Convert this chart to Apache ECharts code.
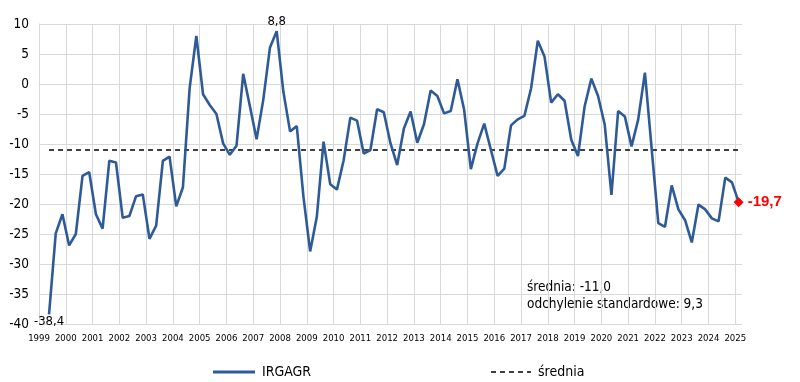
<!DOCTYPE html>
<html>
<head>
<meta charset="utf-8">
<script src="https://cdn.jsdelivr.net/npm/echarts@6/dist/echarts.min.js"></script>
<style>
html,body{margin:0;padding:0;background:#fff;}
#chart{width:800px;height:382px;}
</style>
</head>
<body>
<div id="chart"></div>
<script>
// Quarterly data, first observation 1999 Q2, last 2025 Q1
const startYear = 1999;
const startQuarter = 2;
const irgagr = [
  -38.4, -24.9, -21.7, -26.9,
  -25.0, -15.3, -14.7, -21.7,
  -24.1, -12.8, -13.1, -22.3,
  -22.0, -18.7, -18.4, -25.8,
  -23.6, -12.8, -12.1, -20.4,
  -17.2, -0.7, 8.0, -1.7,
  -3.5, -5.0, -9.9, -11.8,
  -10.3, 1.7, -3.7, -9.2,
  -2.6, 6.1, 8.8, -1.3,
  -7.9, -7.0, -18.8, -27.9,
  -22.1, -9.6, -16.7, -17.6,
  -12.7, -5.6, -6.1, -11.6,
  -11.0, -4.2, -4.7, -9.9,
  -13.5, -7.4, -4.6, -9.8,
  -6.7, -1.1, -2.0, -4.9,
  -4.5, 0.8, -4.3, -14.2,
  -9.9, -6.6, -11.0, -15.3,
  -14.1, -6.9, -5.9, -5.3,
  -0.7, 7.2, 4.6, -3.1,
  -1.7, -2.8, -9.3, -12.0,
  -3.7, 0.9, -2.0, -6.8,
  -18.5, -4.5, -5.4, -10.4,
  -5.9, 1.9, -10.7, -23.2,
  -23.8, -16.9, -20.9, -22.7,
  -26.4, -20.1, -20.9, -22.4,
  -22.9, -15.6, -16.4, -19.7
];
const meanValue = -11.0;
const stdValue = 9.3;
const seriesNames = ['IRGAGR', 'średnia'];
const yTicks = { min: -40, max: 10, interval: 5 };
const xYears = { min: 1999, max: 2025.25 };

const BLUE = '#2E5B97';
const FONT = '"DejaVu Sans Condensed", "DejaVu Sans", sans-serif';

function fmt(v) { return v.toFixed(1).replace('.', ','); }

// quarter position: mid-quarter in decimal years
const xPos = irgagr.map((v, i) => {
  const q = startQuarter - 1 + i;
  return startYear + Math.floor(q / 4) + (q % 4) * 0.25 + 0.125;
});

let maxIdx = 0;
irgagr.forEach((v, i) => { if (v > irgagr[maxIdx]) maxIdx = i; });
const lastIdx = irgagr.length - 1;

const blackLabel = { show: true, color: '#000', fontFamily: FONT, fontSize: 13 };

const mainData = irgagr.map((v, i) => {
  const item = { value: [xPos[i], v] };
  if (i === 0) {
    item.symbol = 'circle'; item.symbolSize = 0.01;
    item.label = Object.assign({}, blackLabel, { position: 'bottom', distance: 1, formatter: () => fmt(v) });
  } else if (i === maxIdx) {
    item.symbol = 'circle'; item.symbolSize = 0.01;
    item.label = Object.assign({}, blackLabel, { position: 'top', distance: 3, formatter: () => fmt(v) });
  } else if (i === lastIdx) {
    item.symbol = 'diamond';
    item.symbolSize = 10;
    item.itemStyle = { color: '#ff0000', borderWidth: 0 };
    item.label = { show: true, position: 'right', distance: 4, color: '#ff0000', fontWeight: 'bold',
      fontFamily: 'Liberation Sans, Arial, sans-serif', fontSize: 15, formatter: () => fmt(v) };
  }
  return item;
});

const chart = echarts.init(document.getElementById('chart'), null, { renderer: 'canvas' });
chart.setOption({
  animation: false,
  backgroundColor: '#fff',
  grid: { left: 39, right: 58, top: 24, bottom: 58, containLabel: false },
  xAxis: {
    type: 'value',
    min: xYears.min, max: xYears.max, interval: 1,
    axisLine: { show: true, lineStyle: { color: '#d9d9d9', width: 1 } },
    axisTick: { show: false },
    splitLine: { show: true, showMaxLine: false, lineStyle: { color: '#d9d9d9', width: 1 } },
    axisLabel: {
      showMaxLabel: false, margin: 10, color: '#000',
      fontFamily: FONT, fontSize: 9.5,
      formatter: v => (Math.abs(v - Math.round(v)) < 1e-6 ? String(Math.round(v)) : '')
    }
  },
  yAxis: {
    type: 'value',
    min: yTicks.min, max: yTicks.max, interval: yTicks.interval,
    axisLine: { show: true, lineStyle: { color: '#d9d9d9', width: 1 } },
    axisTick: { show: false },
    splitLine: { show: true, lineStyle: { color: '#d9d9d9', width: 1 } },
    axisLabel: { margin: 10, color: '#000', fontFamily: FONT, fontSize: 13.5 }
  },
  legend: { show: false, data: seriesNames },
  graphic: [
    { type: 'text', left: 527, top: 280, style: { text: 'średnia: ' + fmt(meanValue), fill: '#000',
      font: '13.5px ' + FONT } },
    { type: 'text', left: 527, top: 297, style: { text: 'odchylenie standardowe: ' + fmt(stdValue), fill: '#000',
      font: '13.5px ' + FONT } },
    // legend
    { type: 'line', shape: { x1: 213, y1: 372, x2: 255, y2: 372 }, style: { stroke: BLUE, lineWidth: 3 } },
    { type: 'text', x: 262, y: 372, style: { text: seriesNames[0], fill: '#000', font: '14px ' + FONT, textVerticalAlign: 'middle', verticalAlign: 'middle' } },
    { type: 'line', shape: { x1: 491, y1: 372, x2: 531, y2: 372 }, style: { stroke: '#000', lineWidth: 1.4, lineDash: [5, 4] } },
    { type: 'text', x: 538, y: 372, style: { text: seriesNames[1], fill: '#000', font: '14px ' + FONT, textVerticalAlign: 'middle', verticalAlign: 'middle' } }
  ],
  series: [
    {
      name: seriesNames[0],
      type: 'line',
      symbol: 'none',
      showSymbol: true,
      data: mainData,
      lineStyle: { color: BLUE, width: 2.6 },
      itemStyle: { color: BLUE },
      z: 3
    },
    {
      name: seriesNames[1],
      type: 'line',
      symbol: 'none',
      data: [[xPos[0], meanValue], [xPos[lastIdx], meanValue]],
      lineStyle: { color: '#000', width: 1.4, type: [5, 4] },
      itemStyle: { color: '#000' },
      z: 2
    }
  ]
});
</script>
</body>
</html>
